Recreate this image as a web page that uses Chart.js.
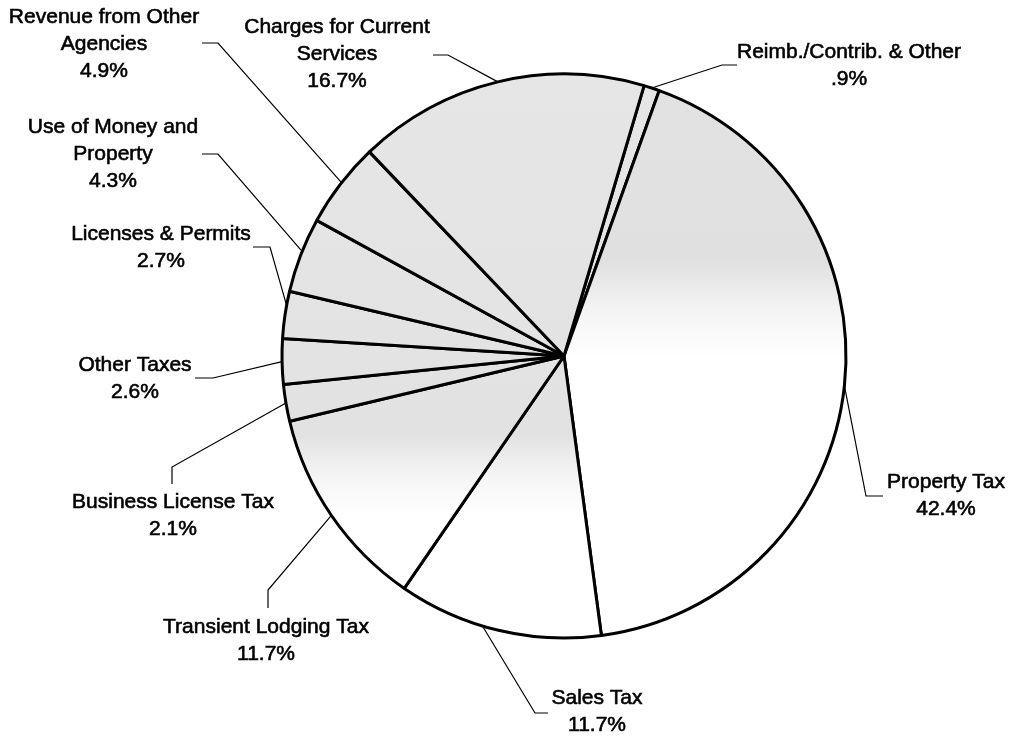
<!DOCTYPE html>
<html><head><meta charset="utf-8">
<script src="https://cdn.jsdelivr.net/npm/chart.js@4.4.1/dist/chart.umd.min.js"></script>
<style>html,body{margin:0;padding:0;background:#fff;} canvas{display:block;}</style>
</head><body>
<canvas id="c" width="1013" height="738"></canvas>
<script>
// ---- data ----
const categories = ["Reimb./Contrib. & Other","Property Tax","Sales Tax","Transient Lodging Tax","Business License Tax","Other Taxes","Licenses & Permits","Use of Money and Property","Revenue from Other Agencies","Charges for Current Services"];
const shares = [0.9, 42.4, 11.7, 11.7, 2.1, 2.6, 2.7, 4.3, 4.9, 16.7];
const labelLines = [["Reimb./Contrib. & Other"],["Property Tax"],["Sales Tax"],["Transient Lodging Tax"],["Business License Tax"],["Other Taxes"],["Licenses & Permits"],["Use of Money and","Property"],["Revenue from Other","Agencies"],["Charges for Current","Services"]];

// ---- layout (label centres and leader elbows) ----
const labelPos = [[849,52],[946,482],[597,698],[266,627],[173,502],[135,365],[161,234],[113,127],[104,17],[337,27]];
const leaderLayout = [[722,65,737,65,0.5],[866,496,883,496,0.5],[535,713,548,713,0.58],[268,590,268,608,0.5],[172,467,172,484,0.5],[213,378,195,378,0.5],[270,247,253,247,0.7],[218,154,202,154,0.55],[218,43,202,43,0.52],[448,55,433,55,0.5]];

function pct(v){ return (v < 1 ? v.toFixed(1).replace(/^0/, '') : v.toFixed(1)) + '%'; }

function fillFn(c){
  const ch = c.chart, a = ch.chartArea;
  if (!a) return '#e8e8e8';
  const g = ch.ctx.createLinearGradient(0, a.top, 0, a.bottom);
  if (c.dataIndex === 1) {
    g.addColorStop(0, '#e2e2e2');
    g.addColorStop(0.33, '#e0e0e0');
    g.addColorStop(0.42, '#f4f4f4');
    g.addColorStop(0.50, '#ffffff');
    g.addColorStop(1, '#ffffff');
  } else {
    g.addColorStop(0, '#e6e6e6');
    g.addColorStop(0.64, '#e2e2e2');
    g.addColorStop(0.72, '#f6f6f6');
    g.addColorStop(0.78, '#ffffff');
    g.addColorStop(1, '#ffffff');
  }
  return g;
}

const leaderPlugin = {
  id: 'leaders',
  afterDatasetsDraw(chart) {
    const ctx = chart.ctx;
    const arcs = chart.getDatasetMeta(0).data;
    ctx.save();
    ctx.strokeStyle = '#000';
    ctx.lineWidth = 1.2;
    arcs.forEach((arc, i) => {
      const p = arc.getProps(['x','y','startAngle','endAngle','outerRadius'], true);
      const L = leaderLayout[i];
      const a = p.startAngle + (p.endAngle - p.startAngle) * L[4];
      const ax = p.x + Math.cos(a) * p.outerRadius;
      const ay = p.y + Math.sin(a) * p.outerRadius;
      ctx.beginPath();
      ctx.moveTo(ax, ay);
      ctx.lineTo(L[0], L[1]);
      ctx.lineTo(L[2], L[3]);
      ctx.stroke();
    });
    ctx.font = '21px "Liberation Sans", Arial, sans-serif';
    ctx.textAlign = 'center';
    ctx.textBaseline = 'middle';
    ctx.fillStyle = '#000';
    ctx.strokeStyle = '#000';
    ctx.lineWidth = 0.6;
    const lh = 27;
    labelLines.forEach((lines, i) => {
      const [x, y] = labelPos[i];
      const all = lines.concat([pct(shares[i])]);
      all.forEach((t, k) => {
        ctx.fillText(t, x, y + k * lh);
        ctx.strokeText(t, x, y + k * lh);
      });
    });
    ctx.restore();
  }
};

new Chart(document.getElementById('c'), {
  type: 'pie',
  data: {
    labels: categories,
    datasets: [{
      data: shares,
      backgroundColor: fillFn,
      borderColor: '#000',
      borderWidth: 3
    }]
  },
  options: {
    responsive: false,
    animation: false,
    rotation: 16.5,
    radius: 282,
    layout: { padding: { left: 282, right: 167, top: 74, bottom: 100 } },
    plugins: { legend: { display: false }, tooltip: { enabled: false } }
  },
  plugins: [leaderPlugin]
});
</script>
</body></html>
